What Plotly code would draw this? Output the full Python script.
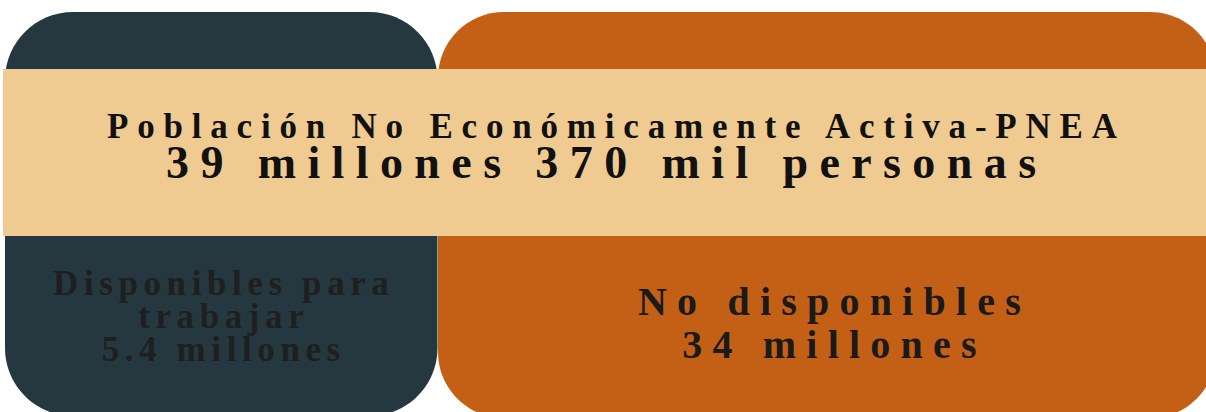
import plotly.graph_objects as go

# ---- data ----
titulo = "Población No Económicamente Activa-PNEA"
total_texto = "39 millones 370 mil personas"
categorias = ["Disponibles para<br>trabajar", "No disponibles"]
valores_millones = [5.4, 34]
unidad = "millones"

# ---- colours / style ----
C_DARK = "#25383F"
C_ORANGE = "#C46015"
C_TAN = "#F0CB91"
FONT = "Liberation Serif"

W, H = 1206, 412


def rrect(x0, y0, x1, y1, r):
    k = 0.5523 * r
    return (
        f"M{x0+r},{y0} L{x1-r},{y0} "
        f"C{x1-r+k},{y0} {x1},{y0+r-k} {x1},{y0+r} "
        f"L{x1},{y1-r} "
        f"C{x1},{y1-r+k} {x1-r+k},{y1} {x1-r},{y1} "
        f"L{x0+r},{y1} "
        f"C{x0+r-k},{y1} {x0},{y1-r+k} {x0},{y1-r} "
        f"L{x0},{y0+r} "
        f"C{x0},{y0+r-k} {x0+r-k},{y0} {x0+r},{y0} Z"
    )


def sp(text, size, ls):
    return f'<span style="font-size:{size}px;letter-spacing:{ls}px"><b>{text}</b></span>'


fig = go.Figure()
fig.add_trace(go.Scatter(x=[0, W], y=[0, H], mode="markers",
                         marker=dict(opacity=0), hoverinfo="skip", showlegend=False))

shapes = [
    dict(type="path", path=rrect(5, 12, 437.5, 416, 68), xref="x", yref="y",
         fillcolor=C_DARK, line=dict(width=0), layer="below"),
    dict(type="path", path=rrect(438, 12, 1216, 418, 66), xref="x", yref="y",
         fillcolor=C_ORANGE, line=dict(width=0), layer="below"),
    dict(type="rect", x0=3, x1=1220, y0=69, y1=236, xref="x", yref="y",
         fillcolor=C_TAN, line=dict(width=0), layer="below"),
]

cat0_lines = categorias[0].split("<br>")
left_text = "<br>".join([sp(t, 35, 5.6) for t in cat0_lines] +
                        [sp(f"{valores_millones[0]} {unidad}", 35, 5.6)])
right_text = "<br>".join([sp(categorias[1], 40, 10.2),
                          sp(f"{valores_millones[1]} {unidad}", 40, 10.2)])

annotations = [
    dict(x=616, y=126, text=sp(titulo, 35, 8.8), showarrow=False,
         font=dict(family=FONT, size=35, color="#111111"), xanchor="center", yanchor="middle"),
    dict(x=606, y=162, text=sp(total_texto, 46, 11.4), showarrow=False,
         font=dict(family=FONT, size=46, color="#111111"), xanchor="center", yanchor="middle"),
    dict(x=223, y=316, text=left_text, showarrow=False,
         font=dict(family=FONT, size=25.4, color="#1E1F20"), xanchor="center", yanchor="middle"),
    dict(x=834, y=322.5, text=right_text, showarrow=False,
         font=dict(family=FONT, size=33, color="#1A1A1A"), xanchor="center", yanchor="middle"),
]

fig.update_layout(
    width=W, height=H, margin=dict(l=0, r=0, t=0, b=0),
    paper_bgcolor="white", plot_bgcolor="white",
    xaxis=dict(range=[0, W], visible=False, fixedrange=True),
    yaxis=dict(range=[H, 0], visible=False, fixedrange=True),
    shapes=shapes, annotations=annotations, showlegend=False,
)

post = """
document.body.style.margin='0';
document.body.style.overflow='hidden';
"""

fig.write_html("out.html", config={"displayModeBar": False}, post_script=post)
